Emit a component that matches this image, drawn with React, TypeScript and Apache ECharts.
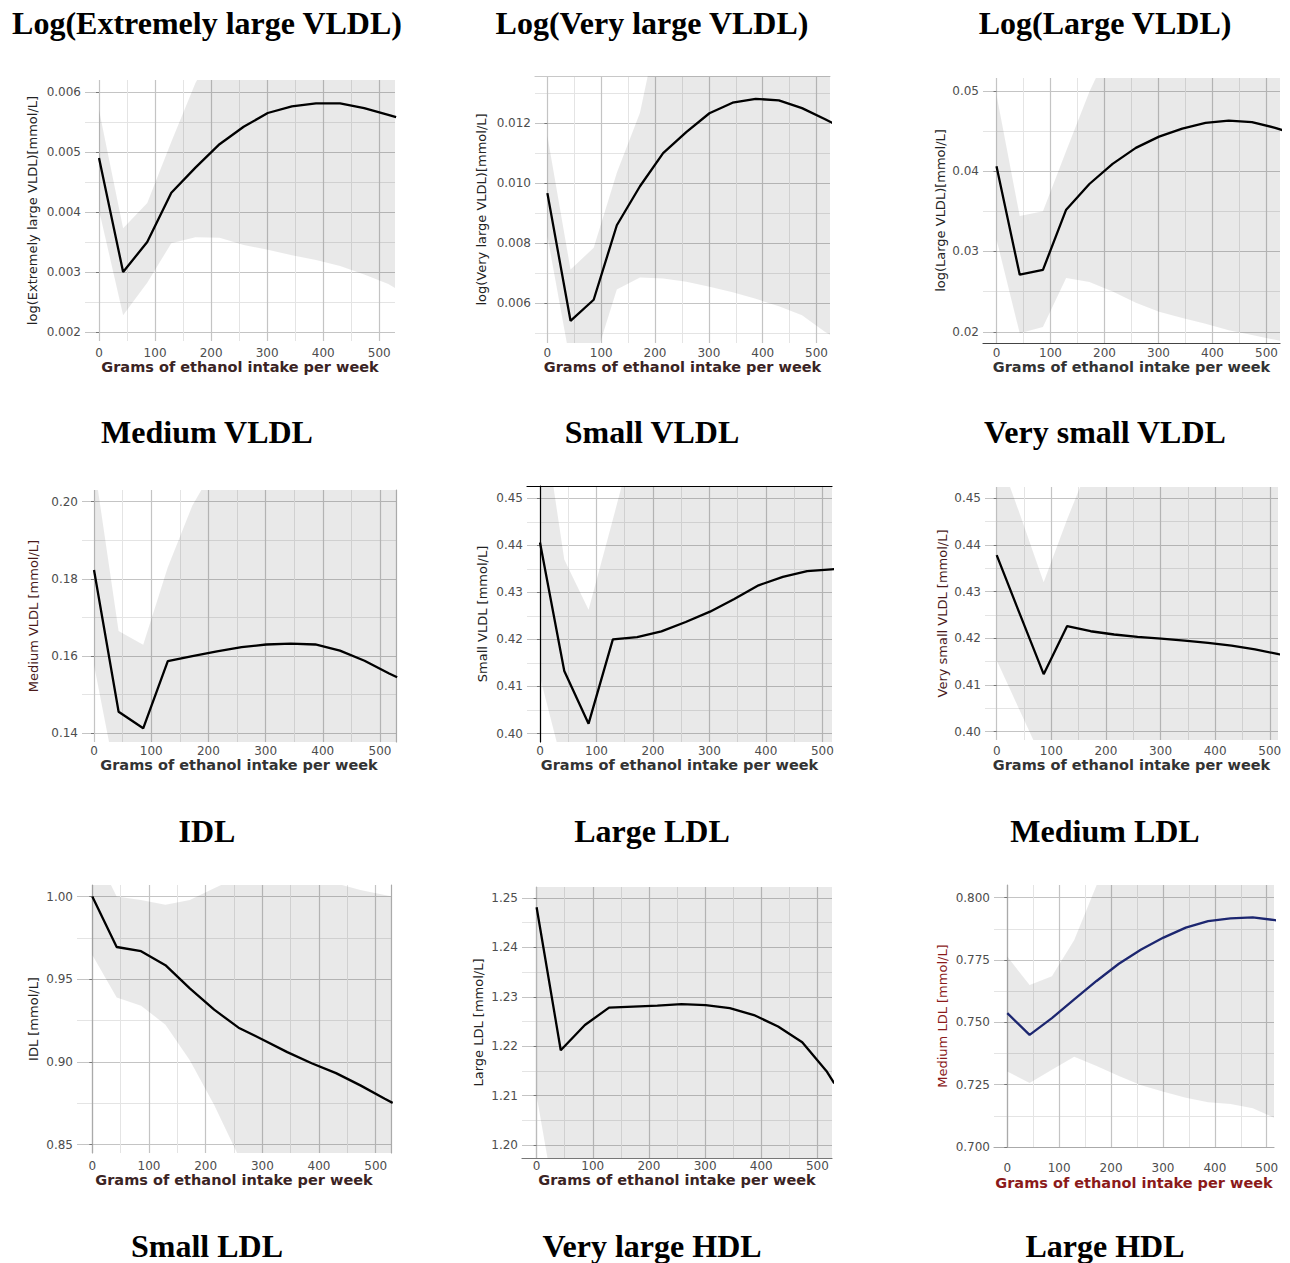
import React, { useEffect, useRef } from "react";
import * as echarts from "echarts";

// ---- data ----
const ETHANOL_GRAMS = [0, 43, 86, 129, 172, 215, 258, 301, 344, 387, 430, 473, 516, 530];

// log(Extremely large VLDL)
const xlVldlFit = [0.0049, 0.003, 0.0035, 0.00432, 0.00474, 0.00513, 0.00542, 0.00565, 0.00576, 0.00581, 0.00581, 0.00573, 0.00562, 0.00558];
const xlVldlLow = [0.00403, 0.00228, 0.00282, 0.00348, 0.00358, 0.00357, 0.00345, 0.00337, 0.00328, 0.0032, 0.0031, 0.00296, 0.0028, 0.00272];
const xlVldlHigh = [0.0057, 0.00373, 0.00415, 0.00517, 0.00615, 0.0069, 0.0075, 0.008, 0.0082, 0.0084, 0.0085, 0.0086, 0.0087, 0.0088];

// log(Very large VLDL)
const vlVldlFit = [0.00967, 0.00542, 0.00612, 0.0086, 0.0099, 0.011, 0.0117, 0.01233, 0.01268, 0.01281, 0.01276, 0.0125, 0.01213, 0.012];
const vlVldlLow = [0.00824, 0.004, 0.004, 0.00646, 0.00686, 0.00683, 0.00672, 0.00655, 0.00637, 0.00615, 0.0059, 0.0056, 0.00505, 0.0049];
const vlVldlHigh = [0.01158, 0.00713, 0.00785, 0.01035, 0.01235, 0.016, 0.017, 0.018, 0.0185, 0.019, 0.019, 0.019, 0.019, 0.019];

// log(Large VLDL)
const lVldlFit = [0.0406, 0.0271, 0.0277, 0.0352, 0.0384, 0.0409, 0.0429, 0.0443, 0.0453, 0.046, 0.0463, 0.0461, 0.0454, 0.0451];
const lVldlLow = [0.0315, 0.0198, 0.0206, 0.0267, 0.0262, 0.025, 0.0236, 0.0225, 0.0217, 0.021, 0.0202, 0.0196, 0.019, 0.0188];
const lVldlHigh = [0.0495, 0.0344, 0.035, 0.0425, 0.0499, 0.056, 0.06, 0.062, 0.064, 0.065, 0.066, 0.067, 0.068, 0.068];

// Medium VLDL
const mVldlFit = [0.1823, 0.1456, 0.1413, 0.1587, 0.16, 0.1612, 0.1623, 0.163, 0.1632, 0.163, 0.1614, 0.1588, 0.1555, 0.1545];
const mVldlLow = [0.1577, 0.125, 0.12, 0.12, 0.12, 0.12, 0.12, 0.12, 0.12, 0.12, 0.12, 0.12, 0.12, 0.12];
const mVldlHigh = [0.21, 0.1665, 0.1629, 0.183, 0.199, 0.21, 0.22, 0.22, 0.22, 0.22, 0.22, 0.22, 0.22, 0.22];

// Small VLDL
const sVldlFit = [0.4406, 0.4133, 0.4021, 0.42, 0.4205, 0.4217, 0.4237, 0.4259, 0.4286, 0.4315, 0.4333, 0.4345, 0.4349, 0.435];
const sVldlLow = [0.412, 0.3919, 0.385, 0.385, 0.385, 0.385, 0.385, 0.385, 0.385, 0.385, 0.385, 0.385, 0.385, 0.385];
const sVldlHigh = [0.4716, 0.437, 0.4263, 0.4455, 0.465, 0.48, 0.48, 0.48, 0.48, 0.48, 0.48, 0.48, 0.48, 0.48];

// Very small VLDL
const vsVldlFit = [0.4378, 0.425, 0.4123, 0.4226, 0.4215, 0.4208, 0.4203, 0.4199, 0.4195, 0.419, 0.4184, 0.4176, 0.4166, 0.4163];
const vsVldlLow = [0.4153, 0.4043, 0.3934, 0.39, 0.39, 0.39, 0.39, 0.39, 0.39, 0.39, 0.39, 0.39, 0.39, 0.39];
const vsVldlHigh = [0.4603, 0.4464, 0.432, 0.4455, 0.458, 0.48, 0.48, 0.48, 0.48, 0.48, 0.48, 0.48, 0.48, 0.48];

// IDL
const idlFit = [1.0, 0.9695, 0.967, 0.9585, 0.9445, 0.9316, 0.9207, 0.9134, 0.9059, 0.8992, 0.8932, 0.8858, 0.8777, 0.8752];
const idlLow = [0.9647, 0.939, 0.934, 0.9225, 0.901, 0.874, 0.843, 0.82, 0.8, 0.8, 0.8, 0.8, 0.8, 0.8];
const idlHigh = [1.03, 1.0, 0.998, 0.995, 0.998, 1.005, 1.012, 1.015, 1.015, 1.013, 1.008, 1.004, 1.001, 1.0];

// Large LDL
const lLdlFit = [1.2481, 1.2192, 1.2243, 1.2278, 1.228, 1.2282, 1.2285, 1.2283, 1.2277, 1.2263, 1.224, 1.2208, 1.215, 1.2125];
const lLdlLow = [1.21, 1.182, 1.17, 1.17, 1.17, 1.17, 1.17, 1.17, 1.17, 1.17, 1.17, 1.17, 1.17, 1.17];
const lLdlHigh = [1.27, 1.27, 1.27, 1.27, 1.27, 1.27, 1.27, 1.27, 1.27, 1.27, 1.27, 1.27, 1.27, 1.27];

// Medium LDL
const mLdlFit = [0.7537, 0.745, 0.7517, 0.7592, 0.7666, 0.7735, 0.7792, 0.784, 0.788, 0.7906, 0.7917, 0.7921, 0.791, 0.7905];
const mLdlLow = [0.7303, 0.7257, 0.731, 0.7362, 0.7325, 0.7285, 0.7248, 0.7222, 0.7198, 0.718, 0.7172, 0.7155, 0.7116, 0.7105];
const mLdlHigh = [0.7764, 0.765, 0.7685, 0.783, 0.805, 0.83, 0.85, 0.85, 0.85, 0.85, 0.85, 0.85, 0.85, 0.85];

const PANEL_TITLES = [
  "Log(Extremely large VLDL)", "Log(Very large VLDL)", "Log(Large VLDL)",
  "Medium VLDL", "Small VLDL", "Very small VLDL",
  "IDL", "Large LDL", "Medium LDL",
];
const NEXT_ROW_TITLES = ["Small LDL", "Very large HDL", "Large HDL"];
const Y_AXIS_TITLES = [
  "log(Extremely large VLDL)[mmol/L]", "log(Very large VLDL)[mmol/L]", "log(Large VLDL)[mmol/L]",
  "Medium VLDL [mmol/L]", "Small VLDL [mmol/L]", "Very small VLDL [mmol/L]",
  "IDL [mmol/L]", "Large LDL [mmol/L]", "Medium LDL [mmol/L]",
];
const X_AXIS_TITLE = "Grams of ethanol intake per week";

const FITS = [xlVldlFit, vlVldlFit, lVldlFit, mVldlFit, sVldlFit, vsVldlFit, idlFit, lLdlFit, mLdlFit];
const LOWS = [xlVldlLow, vlVldlLow, lVldlLow, mVldlLow, sVldlLow, vsVldlLow, idlLow, lLdlLow, mLdlLow];
const HIGHS = [xlVldlHigh, vlVldlHigh, lVldlHigh, mVldlHigh, sVldlHigh, vsVldlHigh, idlHigh, lLdlHigh, mLdlHigh];

// ---- layout / style ----
type Layout = {
  left: number; top: number; width: number; height: number;
  xmin: number; xmax: number; ymin: number; ymax: number;
  dec: number; split?: number; interval?: number; minIsTick?: boolean;
  xMargin: number; xGap: number; yGap: number;
  lineColor: string; yTitleColor: string; xTitleColor: string;
  borders: { left?: string; bottom?: string; top?: string; right?: string };
};

const LAYOUT: Layout[] = [
  { left: 85, top: 80, width: 310, height: 261, xmin: -25, xmax: 528, ymin: 0.00185, ymax: 0.0062, dec: 3, split: 5, xMargin: 6, xGap: 18, yGap: 46, lineColor: "#000", yTitleColor: "#222", xTitleColor: "#3b2424", borders: {} },
  { left: 535, top: 76, width: 295, height: 267, xmin: -23, xmax: 525, ymin: 0.00468, ymax: 0.01357, dec: 3, split: 5, xMargin: 4, xGap: 16, yGap: 47, lineColor: "#000", yTitleColor: "#222", xTitleColor: "#3b2424", borders: { top: "#c8c8c8" } },
  { left: 983, top: 78, width: 297, height: 265, xmin: -25, xmax: 525, ymin: 0.0186, ymax: 0.0516, dec: 2, split: 3, xMargin: 4, xGap: 16, yGap: 36, lineColor: "#000", yTitleColor: "#222", xTitleColor: "#333", borders: { bottom: "#444" } },
  { left: 82, top: 490, width: 314, height: 252, xmin: -21, xmax: 528, ymin: 0.13775, ymax: 0.203, dec: 2, split: 3, xMargin: 3, xGap: 15, yGap: 42, lineColor: "#000", yTitleColor: "#4a1a1a", xTitleColor: "#333", borders: { right: "#aaa" } },
  { left: 527, top: 486, width: 305, height: 256, xmin: -23, xmax: 517, ymin: 0.3982, ymax: 0.4526, dec: 2, split: 5, xMargin: 3, xGap: 15, yGap: 38, lineColor: "#000", yTitleColor: "#222", xTitleColor: "#333", borders: { left: "#000", top: "#000" } },
  { left: 985, top: 487, width: 293, height: 253, xmin: -21.4, xmax: 515, ymin: 0.3982, ymax: 0.4524, dec: 2, split: 5, xMargin: 5, xGap: 17, yGap: 36, lineColor: "#000", yTitleColor: "#4a1a1a", xTitleColor: "#333", borders: {} },
  { left: 77, top: 885, width: 314, height: 268, xmin: -27, xmax: 527, ymin: 0.8449, ymax: 1.007, dec: 2, split: 3, xMargin: 7, xGap: 19, yGap: 37, lineColor: "#000", yTitleColor: "#222", xTitleColor: "#3b2424", borders: { left: "#aaa", right: "#aaa" } },
  { left: 522, top: 887, width: 310, height: 271, xmin: -26, xmax: 526, ymin: 1.1974, ymax: 1.2522, dec: 2, split: 5, xMargin: 2, xGap: 14, yGap: 37, lineColor: "#000", yTitleColor: "#222", xTitleColor: "#3b2424", borders: { left: "#bbb", bottom: "#777" } },
  { left: 994, top: 885, width: 280, height: 262, xmin: -25.6, xmax: 514, ymin: 0.7, ymax: 0.8051, dec: 3, interval: 0.025, minIsTick: true, xMargin: 15, xGap: 28, yGap: 45, lineColor: "#1c2670", yTitleColor: "#8b1a1a", xTitleColor: "#8b1a1a", borders: { left: "#aaa", bottom: "#aaa" } },
];

const TITLE_ROWS_Y = [23, 432, 831, 1246];
const TITLE_COLS_X = [207, 652, 1105];

const MAJOR = "#c4c4c4";
const MINOR = "#e4e4e4";
const BAND = "rgba(0,0,0,0.088)";

function buildOption() {
  const grid: any[] = [];
  const xAxis: any[] = [];
  const yAxis: any[] = [];
  const series: any[] = [];
  const extraX: any[] = [];
  const extraY: any[] = [];

  LAYOUT.forEach((p, i) => {
    grid.push({ left: p.left, top: p.top, width: p.width, height: p.height });
    xAxis.push({
      type: "value", gridIndex: i, min: p.xmin, max: p.xmax, splitNumber: 5,
      name: X_AXIS_TITLE, nameLocation: "middle", nameGap: p.xGap,
      nameTextStyle: { fontFamily: "DejaVu Sans", fontWeight: "bold", fontSize: 14.5, color: p.xTitleColor },
      axisLine: { show: !!p.borders.bottom, lineStyle: { color: p.borders.bottom || "#000", width: 1.2 } },
      axisTick: { show: false },
      axisLabel: { showMinLabel: false, showMaxLabel: false, margin: p.xMargin, color: "#4d4d4d", fontFamily: "DejaVu Sans", fontSize: 12 },
      splitLine: { show: true, showMinLine: false, showMaxLine: false, lineStyle: { color: MAJOR, width: 1.2 } },
      minorTick: { show: false, splitNumber: 2 },
      minorSplitLine: { show: true, lineStyle: { color: MINOR, width: 1 } },
    });
    const yCfg: any = {
      type: "value", gridIndex: i, min: p.ymin, max: p.ymax,
      name: Y_AXIS_TITLES[i], nameLocation: "middle", nameGap: p.yGap, nameRotate: 90,
      nameTextStyle: { fontFamily: "DejaVu Sans", fontSize: 13, color: p.yTitleColor },
      axisLine: { show: !!p.borders.left, lineStyle: { color: p.borders.left || "#000", width: 1.2 } },
      axisTick: { show: true, length: 3, lineStyle: { color: "#777" } },
      axisLabel: {
        showMinLabel: !!p.minIsTick, showMaxLabel: false, margin: 4,
        color: "#4d4d4d", fontFamily: "DejaVu Sans", fontSize: 12,
        formatter: (v: number) => v.toFixed(p.dec),
      },
      splitLine: { show: true, showMinLine: !!p.minIsTick, showMaxLine: false, lineStyle: { color: MAJOR, width: 1.2 } },
      minorTick: { show: false, splitNumber: 2 },
      minorSplitLine: { show: true, lineStyle: { color: MINOR, width: 1 } },
    };
    if (p.interval) yCfg.interval = p.interval;
    else yCfg.splitNumber = p.split;
    yAxis.push(yCfg);

    if (p.borders.top) {
      extraX.push({
        type: "value", gridIndex: i, position: "top", min: p.xmin, max: p.xmax,
        axisLine: { show: true, lineStyle: { color: p.borders.top, width: 1.2 } },
        axisTick: { show: false }, axisLabel: { show: false }, splitLine: { show: false },
      });
    }
    if (p.borders.right) {
      extraY.push({
        type: "value", gridIndex: i, position: "right", min: p.ymin, max: p.ymax,
        axisLine: { show: true, lineStyle: { color: p.borders.right, width: 1.2 } },
        axisTick: { show: false }, axisLabel: { show: false }, splitLine: { show: false },
      });
    }

    const low = LOWS[i];
    const high = HIGHS[i];
    const fit = FITS[i];
    // confidence ribbon: one polygon through the axis scales
    series.push({
      type: "custom", xAxisIndex: i, yAxisIndex: i, silent: true, clip: true,
      data: ETHANOL_GRAMS.map((g, j) => [g, low[j], high[j]]),
      encode: { x: 0, y: [1, 2] },
      renderItem: (params: any, api: any) => {
        if (params.dataIndex !== 0) return null;
        const upper = ETHANOL_GRAMS.map((g, j) => api.coord([g, high[j]]));
        const lower = ETHANOL_GRAMS.map((g, j) => api.coord([g, low[j]])).reverse();
        return {
          type: "polygon",
          shape: { points: upper.concat(lower) },
          style: { fill: BAND, stroke: "none" },
        };
      },
    });
    series.push({
      type: "line", xAxisIndex: i, yAxisIndex: i, silent: true, clip: true,
      symbol: "none", lineStyle: { color: p.lineColor, width: 2.3 },
      data: ETHANOL_GRAMS.map((g, j) => [g, fit[j]]),
    });
  });

  const titleFont = 'bold 32px "Liberation Serif", "Times New Roman", serif';
  const graphic: any[] = [];
  const addTitle = (t: string, x: number, y: number) =>
    graphic.push({
      type: "text", x, y,
      style: { text: t, font: titleFont, fill: "#000", align: "center", verticalAlign: "middle", textAlign: "center", textVerticalAlign: "middle" },
    });
  PANEL_TITLES.forEach((t, i) => addTitle(t, TITLE_COLS_X[i % 3], TITLE_ROWS_Y[Math.floor(i / 3)]));
  NEXT_ROW_TITLES.forEach((t, i) => addTitle(t, TITLE_COLS_X[i], TITLE_ROWS_Y[3]));

  return {
    animation: false,
    backgroundColor: "#ffffff",
    textStyle: { fontFamily: "DejaVu Sans" },
    grid,
    xAxis: [...xAxis, ...extraX],
    yAxis: [...yAxis, ...extraY],
    series,
    graphic,
  };
}

export default function App() {
  const ref = useRef<HTMLDivElement>(null);
  useEffect(() => {
    if (!ref.current) return;
    const chart = echarts.init(ref.current, undefined, { renderer: "svg" });
    chart.setOption(buildOption() as any);
    return () => chart.dispose();
  }, []);
  return (
    <div
      ref={ref}
      style={{ position: "absolute", left: 0, top: 0, width: 1290, height: 1263, background: "#fff" }}
    />
  );
}
